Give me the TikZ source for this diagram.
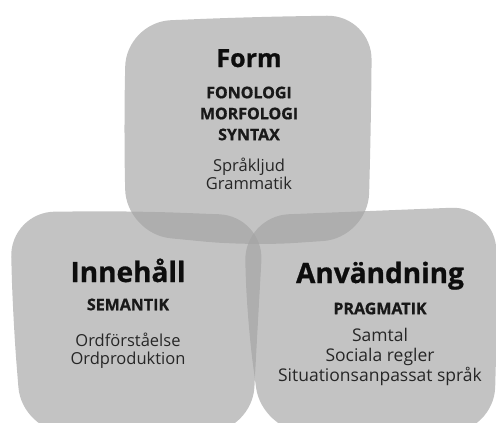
\documentclass[tikz,border=0pt]{standalone}
\usepackage{fontspec}
\setmainfont{Open Sans}[BoldFeatures={FakeBold=0.8}]
\usepackage{xcolor}
\usepackage{tikz}
\usetikzlibrary{positioning}

\begin{document}
\begin{tikzpicture}[
        x=1pt, y=-1pt,
        blob/.style={fill=black!36, fill opacity=0.65, draw=none, rounded corners=45pt},
        title/.style={font=\fontsize{28}{32}\selectfont\bfseries, inner sep=0pt, anchor=base, text=black!95},
        caps/.style={font=\fontsize{16}{21}\selectfont\bfseries, align=center, inner sep=0pt, text=black!90},
        body/.style={font=\fontsize{16.5}{18}\selectfont, align=center, inner sep=0pt, text=black!85}
    ]
    \clip (0,0) rectangle (496,423);

    % Three overlapping rounded blobs
    \path[blob] (124,130) -- (126,22) -- (250,17) -- (372,15) -- (371,120) -- (368,238) -- (250,246) -- (126,234) -- cycle;
    \path[blob] (13,320) -- (10,212) -- (135,211) -- (264,216) -- (258,320) -- (252,432) -- (135,434) -- (22,432) -- cycle;
    \path[blob] (247,320) -- (244,216) -- (370,211) -- (496,206) -- (497,320) -- (494,432) -- (380,434) -- (262,432) -- cycle;

    % Form
    \node[title, font=\fontsize{25}{30}\selectfont\bfseries] (form) at (249,67) {Form};
    \node[caps, below=19pt of form] (formsub) {FONOLOGI\\MORFOLOGI\\SYNTAX};
    \node[body, below=17pt of formsub] (formbody) {Språkljud\\Grammatik};

    % Innehåll
    \node[title] (inne) at (128,282) {Innehåll};
    \node[caps, below=16pt of inne] (innesub) {SEMANTIK};
    \node[body, below=22.5pt of innesub] (innebody) {Ordförståelse\\Ordproduktion};

    % Användning
    \node[title] (anv) at (380,283) {Användning};
    \node[caps, below=12.5pt of anv] (anvsub) {PRAGMATIK};
    \node[body, font=\fontsize{17.5}{20}\selectfont, below=13.5pt of anvsub] (anvbody) {Samtal\\Sociala regler\\Situationsanpassat språk};

\end{tikzpicture}
\end{document}
